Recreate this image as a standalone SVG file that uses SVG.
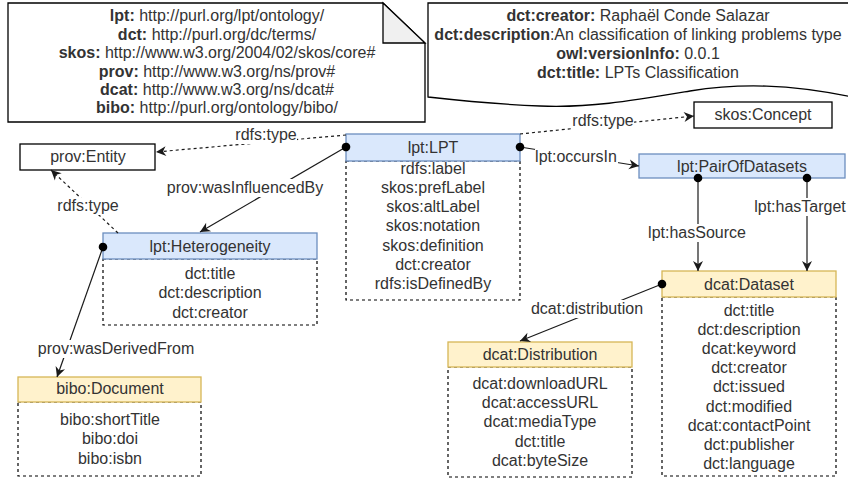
<svg xmlns="http://www.w3.org/2000/svg" width="848" height="482" viewBox="0 0 848 482">
<style>
text{font-family:"Liberation Sans",Arial,Helvetica,sans-serif;font-size:16px;fill:#333;text-anchor:middle}
.b{font-weight:bold}
.hb{fill:#dae8fc;stroke:#6c8ebf;stroke-width:1.3}
.hy{fill:#fff2cc;stroke:#d6b656;stroke-width:1.3}
.body{fill:#fff;stroke:#000;stroke-width:1.2;stroke-dasharray:3 3}
.box{fill:#fff;stroke:#000;stroke-width:1.3}
.e{fill:none;stroke:#1a1a1a;stroke-width:1.2}
.d{stroke-dasharray:3 3}
.lb{fill:#fff;stroke:none}
</style>
<defs>
<marker id="arr" markerUnits="userSpaceOnUse" markerWidth="12" markerHeight="12" refX="10" refY="5" orient="auto" overflow="visible">
<path d="M0,0 L10,5 L0,10 L3,5 Z" fill="#1a1a1a"/>
</marker>
<marker id="dot" markerUnits="userSpaceOnUse" markerWidth="10" markerHeight="10" refX="5" refY="5" orient="auto" overflow="visible">
<circle cx="5" cy="5" r="4.3" fill="#000"/>
</marker>
</defs>

<g id="note-prefixes">
<path d="M8,3 H383 L425,43 V122 H8 Z" class="box"/>
<path d="M383,3 V43 H425 Z" fill="#f0f0f0" stroke="#000" stroke-width="1.3"/>
<text x="217" y="21"><tspan class="b">lpt:</tspan> http://purl.org/lpt/ontology/</text>
<text x="217" y="39.5"><tspan class="b">dct:</tspan> http://purl.org/dc/terms/</text>
<text x="217" y="58"><tspan class="b">skos:</tspan> http://www.w3.org/2004/02/skos/core#</text>
<text x="217" y="76.5"><tspan class="b">prov:</tspan> http://www.w3.org/ns/prov#</text>
<text x="217" y="95"><tspan class="b">dcat:</tspan> http://www.w3.org/ns/dcat#</text>
<text x="217" y="113"><tspan class="b">bibo:</tspan> http://purl.org/ontology/bibo/</text>
</g>

<g id="doc-metadata">
<path d="M428,3 H852 V97 C790,84 740,83 690,91 C630,101 590,108 540,106 C490,104 455,100 428,97 Z" class="box"/>
<text x="638" y="21"><tspan class="b">dct:creator:</tspan> Raphaël Conde Salazar</text>
<text x="638" y="40"><tspan class="b">dct:description</tspan>:An classification of linking problems type</text>
<text x="638" y="59"><tspan class="b">owl:versionInfo:</tspan> 0.0.1</text>
<text x="638" y="78"><tspan class="b">dct:title:</tspan> LPTs Classification</text>
</g>

<g id="prov-entity">
<rect class="box" x="20" y="144" width="135" height="26"/>
<text x="88" y="162">prov:Entity</text>
</g>

<g id="skos-concept">
<rect class="box" x="694" y="102" width="138" height="26"/>
<text x="763" y="120">skos:Concept</text>
</g>

<g id="lpt-LPT">
<rect class="body" x="346" y="161" width="174" height="139"/>
<rect class="hb" x="346" y="134" width="174" height="27"/>
<text x="433" y="153">lpt:LPT</text>
<text x="433" y="174">rdfs:label</text>
<text x="433" y="193">skos:prefLabel</text>
<text x="433" y="212">skos:altLabel</text>
<text x="433" y="231">skos:notation</text>
<text x="433" y="251">skos:definition</text>
<text x="433" y="270">dct:creator</text>
<text x="433" y="289">rdfs:isDefinedBy</text>
</g>

<g id="lpt-Heterogeneity">
<rect class="body" x="103" y="259" width="214" height="66"/>
<rect class="hb" x="103" y="233" width="214" height="26"/>
<text x="210" y="252">lpt:Heterogeneity</text>
<text x="210" y="279">dct:title</text>
<text x="210" y="298">dct:description</text>
<text x="210" y="318">dct:creator</text>
</g>

<g id="bibo-Document">
<rect class="body" x="18" y="402" width="183" height="74"/>
<rect class="hy" x="18" y="377" width="183" height="25"/>
<text x="110" y="394">bibo:Document</text>
<text x="110" y="425">bibo:shortTitle</text>
<text x="110" y="444">bibo:doi</text>
<text x="110" y="464">bibo:isbn</text>
</g>

<g id="lpt-PairOfDatasets">
<rect class="hb" x="639" y="154" width="206" height="24"/>
<text x="742" y="172">lpt:PairOfDatasets</text>
</g>

<g id="dcat-Dataset">
<rect class="body" x="662" y="297" width="174" height="179"/>
<rect class="hy" x="662" y="271" width="174" height="26"/>
<text x="749" y="290">dcat:Dataset</text>
<text x="749" y="316">dct:title</text>
<text x="749" y="335">dct:description</text>
<text x="749" y="354">dcat:keyword</text>
<text x="749" y="373">dct:creator</text>
<text x="749" y="392">dct:issued</text>
<text x="749" y="412">dct:modified</text>
<text x="749" y="431">dcat:contactPoint</text>
<text x="749" y="450">dct:publisher</text>
<text x="749" y="469">dct:language</text>
</g>

<g id="dcat-Distribution">
<rect class="body" x="448" y="367" width="184" height="110"/>
<rect class="hy" x="448" y="342" width="184" height="25"/>
<text x="540" y="360">dcat:Distribution</text>
<text x="540" y="389">dcat:downloadURL</text>
<text x="540" y="408">dcat:accessURL</text>
<text x="540" y="427">dcat:mediaType</text>
<text x="540" y="447">dct:title</text>
<text x="540" y="466">dcat:byteSize</text>
</g>

<g id="connectors">
<line class="e d" x1="346" y1="135" x2="156" y2="152" marker-end="url(#arr)"/>
<rect class="lb" x="236" y="127" width="61" height="17"/>
<text x="266" y="140">rdfs:type</text>

<line class="e d" x1="520" y1="134" x2="694" y2="116" marker-end="url(#arr)"/>
<rect class="lb" x="573" y="113" width="61" height="17"/>
<text x="603" y="126">rdfs:type</text>

<line class="e" x1="346" y1="147" x2="200" y2="232" marker-start="url(#dot)" marker-end="url(#arr)"/>
<rect class="lb" x="167" y="179" width="157" height="18"/>
<text x="245" y="193">prov:wasInfluencedBy</text>

<line class="e" x1="520" y1="147" x2="639" y2="166" marker-start="url(#dot)" marker-end="url(#arr)"/>
<rect class="lb" x="535" y="149" width="83" height="17"/>
<text x="576" y="162">lpt:occursIn</text>

<line class="e d" x1="118" y1="233" x2="51" y2="170" marker-end="url(#arr)"/>
<rect class="lb" x="58" y="198" width="61" height="17"/>
<text x="88" y="211">rdfs:type</text>

<line class="e" x1="103" y1="247" x2="57" y2="377" marker-start="url(#dot)" marker-end="url(#arr)"/>
<rect class="lb" x="38" y="340" width="157" height="18"/>
<text x="116" y="354">prov:wasDerivedFrom</text>

<line class="e" x1="698" y1="178" x2="698" y2="271" marker-start="url(#dot)" marker-end="url(#arr)"/>
<rect class="lb" x="648" y="224" width="99" height="18"/>
<text x="697" y="238">lpt:hasSource</text>

<line class="e" x1="807" y1="178" x2="807" y2="271" marker-start="url(#dot)" marker-end="url(#arr)"/>
<rect class="lb" x="753" y="198" width="95" height="18"/>
<text x="800" y="212">lpt:hasTarget</text>

<line class="e" x1="662" y1="284" x2="520" y2="341" marker-start="url(#dot)" marker-end="url(#arr)"/>
<rect class="lb" x="531" y="300" width="113" height="18"/>
<text x="587" y="314">dcat:distribution</text>
</g>
</svg>
